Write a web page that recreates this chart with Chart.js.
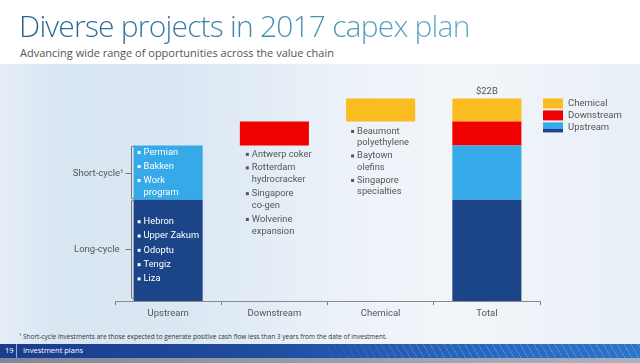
<!DOCTYPE html>
<html>
<head>
<meta charset="utf-8">
<script src="https://cdn.jsdelivr.net/npm/chart.js@4/dist/chart.umd.min.js"></script>
<style>
  html,body{margin:0;padding:0;width:640px;height:363px;overflow:hidden;background:#fff;font-family:"Open Sans",sans-serif;}
  #panel{position:absolute;left:0;top:64px;width:640px;height:280px;
    background:linear-gradient(90deg,#e5eef8 0%,#d8e6f2 9%,#dbe8f3 30%,#edf2f9 55%,#f2f6fa 72%,#e9eff7 100%);}
  #title{position:absolute;left:19px;top:5px;font-size:30px;font-weight:300;letter-spacing:-0.8px;white-space:nowrap;
    background:linear-gradient(90deg,#25628f 0%,#3c87ae 50%,#62abc4 100%);-webkit-background-clip:text;background-clip:text;color:transparent;}
  #subtitle{position:absolute;left:20px;top:45px;font-size:11px;color:#555;white-space:nowrap;}
  #foot{position:absolute;left:19px;top:332px;font-size:6.5px;color:#333;white-space:nowrap;}
  #bar{position:absolute;left:0;top:344px;width:640px;height:14px;
    background:linear-gradient(90deg,#1b3c8c 0%,#1f4c9f 40%,#2867bf 75%,#2c74cc 100%);}
  #stripes{position:absolute;left:300px;top:0;width:340px;height:14px;
    background:repeating-linear-gradient(60deg,rgba(255,255,255,0) 0px,rgba(255,255,255,0) 5px,rgba(255,255,255,0.18) 5px,rgba(255,255,255,0.18) 6px);
    -webkit-mask-image:linear-gradient(90deg,transparent,#000 40%);}
  #pg{position:absolute;left:5px;top:1px;font-size:7.5px;color:#fff;}
  #sep{position:absolute;left:16px;top:0;width:1px;height:14px;background:#8fb0e0;}
  #sec{position:absolute;left:23px;top:1px;font-size:7.5px;color:#fff;}
  #grey{position:absolute;left:0;top:358px;width:640px;height:5px;background:linear-gradient(90deg,#7e8a98,#a9b3bf);}
  #wrap{position:absolute;left:0;top:0;width:640px;height:363px;}
</style>
</head>
<body>
<div id="panel"></div>
<div id="title">Diverse projects in 2017 capex plan</div>
<div id="subtitle">Advancing wide range of opportunities across the value chain</div>
<div id="foot">¹ Short-cycle investments are those expected to generate positive cash flow less than 3 years from the date of investment.</div>
<div id="bar"><div id="stripes"></div><span id="pg">19</span><div id="sep"></div><span id="sec">Investment plans</span></div>
<div id="grey"></div>
<div id="wrap"><canvas id="c" width="640" height="363"></canvas></div>
<script>
// ---- data ($B) ----
const categories = ["Upstream", "Downstream", "Chemical", "Total"];
const seriesNames = ["Long-cycle", "Short-cycle", "Downstream", "Chemical"];
const seriesValues = [11.0, 5.9, 2.6, 2.5];
const seriesCategory = [0, 0, 1, 2];     // category where each segment floats (also shown in Total)
const seriesColors = ["#1c4489", "#36a9e8", "#f10000", "#fbbc21"];
const totalLabel = "$22B";
const legendLabels = ["Chemical", "Downstream", "Upstream"];
const upstreamShortProjects = [["Permian"], ["Bakken"], ["Work", "program"]];
const upstreamLongProjects = [["Hebron"], ["Upper Zakum"], ["Odoptu"], ["Tengiz"], ["Liza"]];
const downstreamProjects = [["Antwerp coker"], ["Rotterdam", "hydrocracker"], ["Singapore", "co-gen"], ["Wolverine", "expansion"]];
const chemicalProjects = [["Beaumont", "polyethylene"], ["Baytown", "olefins"], ["Singapore", "specialties"]];
const cycleLabels = ["Short-cycle¹", "Long-cycle"];

// build floating (waterfall) segments
let run = 0;
const datasets = seriesNames.map((name, s) => {
  const start = run; run += seriesValues[s];
  const end = run;
  return {
    label: name,
    data: categories.map((c, i) => (i === seriesCategory[s] || i === categories.length - 1) ? [start, end] : null),
    backgroundColor: seriesColors[s],
    borderWidth: 0,
    categoryPercentage: 1,
    barPercentage: 0.65,
    grouped: false
  };
});

const FONT = "Roboto, 'Noto Sans', sans-serif";
const TXT = "#555";

function drawList(ctx, items, x, yStart, color, lineH, itemH) {
  let y = yStart;
  ctx.fillStyle = color;
  items.forEach((lines) => {
    ctx.fillRect(x, y - 1.5, 3, 3);
    lines.forEach((ln, j) => {
      ctx.fillText(ln, x + 6, y);
      if (j < lines.length - 1) y += lineH;
    });
    y += itemH;
  });
}
function listHeight(items, lineH, itemH) {
  let h = 0;
  items.forEach((lines, k) => { h += (lines.length - 1) * lineH; if (k < items.length - 1) h += itemH; });
  return h;
}

const annotate = {
  id: "annotate",
  afterDatasetsDraw(chart) {
    const ctx = chart.ctx;
    const ca = chart.chartArea;
    const bar = (d, i) => chart.getDatasetMeta(d).data[i];
    ctx.save();
    ctx.font = "9.3px " + FONT;
    ctx.textBaseline = "middle";
    ctx.textAlign = "left";

    // Upstream bar lists (white)
    const lc = bar(0, 0), sc = bar(1, 0);
    const left = lc.x - lc.width / 2;
    const lineH = 12, itemH = 14;
    let h = listHeight(upstreamShortProjects, lineH, itemH);
    drawList(ctx, upstreamShortProjects, left + 4, (sc.y + sc.base) / 2 - h / 2, "#fff", lineH, itemH);
    h = listHeight(upstreamLongProjects, lineH, 14.3);
    drawList(ctx, upstreamLongProjects, left + 4, (lc.y + lc.base) / 2 - h / 2, "#fff", lineH, 14.3);

    // brackets + cycle labels
    ctx.strokeStyle = "#777"; ctx.lineWidth = 1;
    ctx.font = "9.5px " + FONT;
    const bx = Math.round(left - 3) + 0.5;
    [[sc.y + 1, sc.base - 1], [lc.y + 1, lc.base - 3]].forEach(([t, b], k) => {
      ctx.beginPath();
      ctx.moveTo(bx + 3, t); ctx.lineTo(bx, t); ctx.lineTo(bx, b); ctx.lineTo(bx + 3, b);
      const m = Math.round((t + b) / 2) + 0.5;
      ctx.moveTo(bx - 6, m); ctx.lineTo(bx, m);
      ctx.stroke();
      ctx.fillStyle = TXT; ctx.textAlign = "right";
      ctx.fillText(cycleLabels[k], bx - (k === 0 ? 8 : 12), m);
      ctx.textAlign = "left";
    });

    ctx.font = "9.3px " + FONT;
    // Downstream list (below red bar)
    const ds = bar(2, 1);
    drawList(ctx, downstreamProjects, ds.x - ds.width / 2 + 6, ds.base + 9, TXT, 12.3, 13.5);
    // Chemical list
    const ch = bar(3, 2);
    drawList(ctx, chemicalProjects, ch.x - ch.width / 2 + 5, ch.base + 10, TXT, 11.5, 13);

    // total label
    ctx.font = "9.5px " + FONT;
    const tt = bar(3, 3);
    ctx.textAlign = "center"; ctx.fillStyle = TXT;
    ctx.fillText(totalLabel, tt.x, tt.y - 7);

    // legend
    const lx = ca.right + 3;
    const ly = tt.y;
    const sw = [[seriesColors[3]], [seriesColors[2]], [seriesColors[1], seriesColors[0]]];
    legendLabels.forEach((lab, k) => {
      const y = ly + k * 12;
      if (sw[k].length === 1) { ctx.fillStyle = sw[k][0]; ctx.fillRect(lx, y, 20, 10); }
      else { ctx.fillStyle = sw[k][0]; ctx.fillRect(lx, y, 20, 6.5); ctx.fillStyle = sw[k][1]; ctx.fillRect(lx, y + 6.5, 20, 3.5); }
      ctx.fillStyle = TXT; ctx.textAlign = "left";
      ctx.fillText(lab, lx + 25, y + 5.5);
    });
    ctx.restore();
  }
};

new Chart(document.getElementById("c"), {
  type: "bar",
  data: { labels: categories, datasets },
  options: {
    responsive: false,
    animation: false,
    layout: { padding: { left: 115, right: 100, top: 80, bottom: 32 } },
    plugins: { legend: { display: false }, tooltip: { enabled: false } },
    scales: {
      x: {
        offset: true,
        afterFit(s) { s.height = 30; },
        grid: { offset: true, drawOnChartArea: false, drawTicks: true, tickLength: 4, color: "#7a7a7a" },
        border: { display: true, color: "#8a8a8a", width: 1 },
        ticks: { color: TXT, font: { family: FONT, size: 9.5 }, padding: 3 }
      },
      y: { display: false, min: 0, max: 24 }
    }
  },
  plugins: [annotate]
});
</script>
</body>
</html>
